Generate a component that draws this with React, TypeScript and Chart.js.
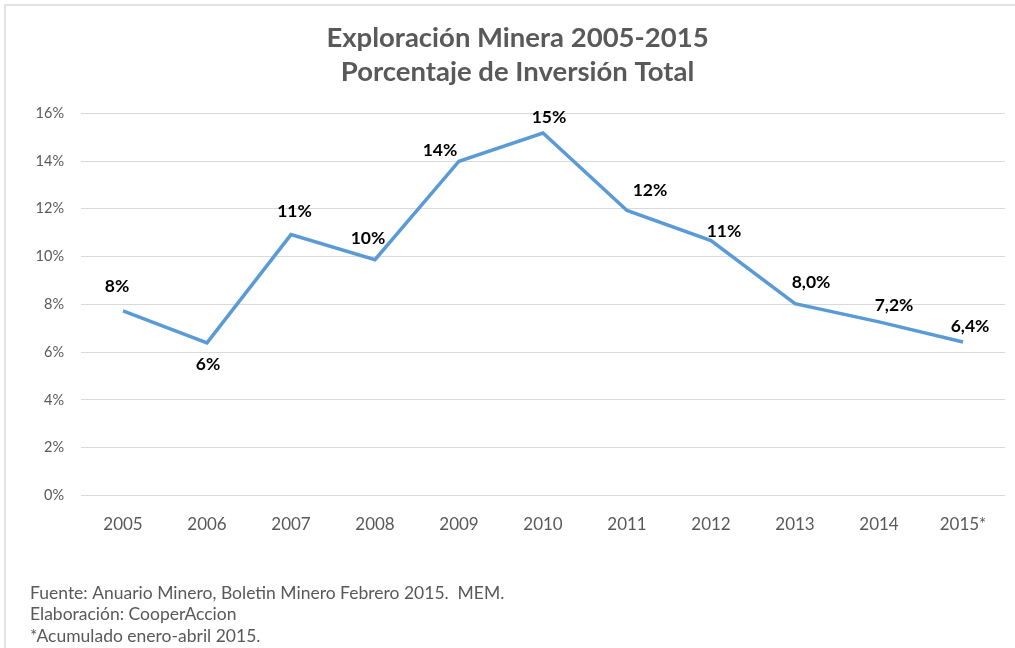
import React, { useEffect, useRef } from "react";
import { Chart, registerables } from "chart.js";

Chart.register(...registerables);

const years = ["2005", "2006", "2007", "2008", "2009", "2010", "2011", "2012", "2013", "2014", "2015*"];
const values = [7.73, 6.39, 10.92, 9.87, 13.99, 15.17, 11.93, 10.67, 8.03, 7.27, 6.43];
const labels = ["8%", "6%", "11%", "10%", "14%", "15%", "12%", "11%", "8,0%", "7,2%", "6,4%"];
const labelOffsets: [number, number][] = [
  [-6, -24.5], [1, 21.5], [3.5, -23.3], [-7, -21.6], [-19, -11], [6, -16], [23, -20], [13, -9], [16, -21], [15, -16], [7, -16],
];
const titleLines = ["Exploración Minera 2005-2015", "Porcentaje de Inversión Total"];
const footnotes = [
  "Fuente: Anuario Minero, Boletin Minero Febrero 2015.  MEM.",
  "Elaboración: CooperAccion",
  "*Acumulado enero-abril 2015.",
];

const FONT = "Lato, 'Open Sans', sans-serif";

const extras = {
  id: "extras",
  beforeDraw(chart: any) {
    const { ctx, width } = chart;
    ctx.save();
    ctx.fillStyle = "#ffffff";
    ctx.fillRect(0, 0, width, chart.height);
    ctx.strokeStyle = "#D9D9D9";
    ctx.lineWidth = 1.5;
    ctx.beginPath();
    ctx.moveTo(5, 700);
    ctx.lineTo(5, 5);
    ctx.lineTo(width, 5);
    ctx.stroke();
    ctx.restore();
  },
  afterDraw(chart: any) {
    const { ctx } = chart;
    const meta = chart.getDatasetMeta(0);
    ctx.save();
    ctx.font = `bold 17.5px ${FONT}`;
    ctx.fillStyle = "#000000";
    ctx.textAlign = "center";
    ctx.textBaseline = "middle";
    meta.data.forEach((pt: any, i: number) => {
      const [dx, dy] = labelOffsets[i];
      ctx.fillText(labels[i], pt.x + dx, pt.y + dy);
    });
    ctx.font = `17.5px ${FONT}`;
    ctx.fillStyle = "#595959";
    ctx.textAlign = "left";
    footnotes.forEach((t, i) => {
      ctx.fillText(t, 30, 593 + i * 21.5);
    });
    ctx.restore();
  },
};

export default function App() {
  const ref = useRef<HTMLCanvasElement>(null);
  useEffect(() => {
    const chart = new Chart(ref.current!, {
      type: "line",
      data: {
        labels: years,
        datasets: [
          {
            data: values,
            borderColor: "#5B9BD5",
            borderWidth: 3.5,
            pointRadius: 0,
            tension: 0,
            fill: false,
          },
        ],
      },
      options: {
        animation: false,
        responsive: false,
        maintainAspectRatio: false,
        layout: { padding: { left: 30, right: 10, top: 0, bottom: 94 } },
        plugins: {
          legend: { display: false },
          tooltip: { enabled: false },
          title: {
            display: true,
            text: titleLines,
            color: "#595959",
            font: { family: FONT, size: 27.5, weight: "bold", lineHeight: 1.24 },
            padding: { top: 21, bottom: 24 },
          },
        },
        scales: {
          x: {
            offset: true,
            grid: { display: false, drawTicks: false },
            border: { display: false },
            ticks: { color: "#595959", font: { family: FONT, size: 17 }, padding: 19 },
          },
          y: {
            min: 0,
            max: 16,
            afterFit: (s: any) => { s.width = 51; },
            grid: { color: "#D9D9D9", lineWidth: 1, drawTicks: false },
            border: { display: false },
            ticks: {
              stepSize: 2,
              color: "#595959",
              font: { family: FONT, size: 14.5 },
              padding: 17,
              callback: (v: any) => `${v}%`,
            },
          },
        },
      },
      plugins: [extras],
    });
    return () => chart.destroy();
  }, []);
  return (
    <div style={{ position: "absolute", left: 0, top: 0, width: 1015, height: 648 }}>
      <canvas ref={ref} width={1015} height={648} style={{ width: 1015, height: 648 }} />
    </div>
  );
}
